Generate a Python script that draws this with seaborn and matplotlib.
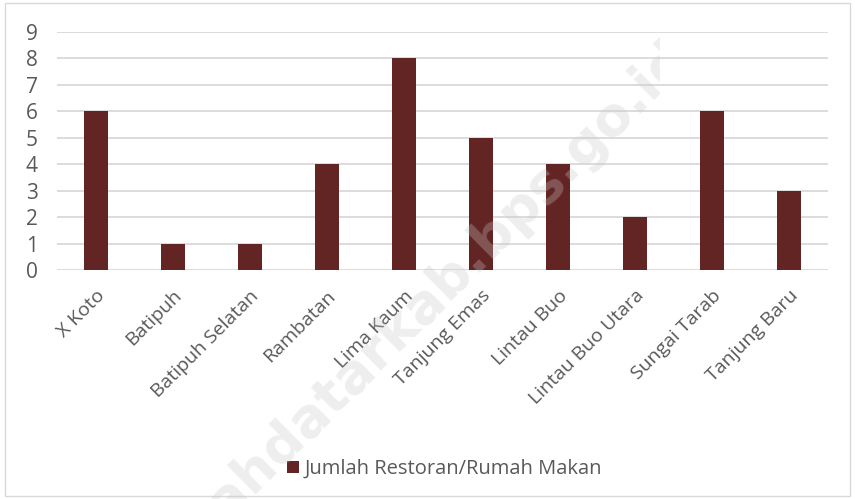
import matplotlib
matplotlib.use("Agg")
import matplotlib.pyplot as plt
import seaborn as sns
from matplotlib.patches import Rectangle
from matplotlib.transforms import Bbox, TransformedBbox

kecamatan = ["X Koto", "Batipuh", "Batipuh Selatan", "Rambatan", "Lima Kaum",
             "Tanjung Emas", "Lintau Buo", "Lintau Buo Utara", "Sungai Tarab", "Tanjung Baru"]
jumlah = [6, 1, 1, 4, 8, 5, 4, 2, 6, 3]
y_ticks = list(range(0, 10))
series_name = "Jumlah Restoran/Rumah Makan"

sns.set_theme(style="white")
plt.rcParams["font.family"] = ["Open Sans", "DejaVu Sans"]
text_color = "#595959"
bar_color = "#632523"

fig = plt.figure(figsize=(8.55, 4.99), dpi=100)
ax = fig.add_axes([0.0667, 0.459, 0.9013, 0.477])

sns.barplot(x=kecamatan, y=jumlah, color=bar_color, width=0.31, saturation=1,
            linewidth=0, label=series_name, ax=ax)

ax.set_ylim(0, 9)
ax.set_yticks(y_ticks)
ax.set_xlim(-0.5, len(kecamatan) - 0.5)
ax.yaxis.grid(True, color="#d9d9d9", linewidth=1.3)
ax.set_axisbelow(True)
for s in ax.spines.values():
    s.set_visible(False)
ax.tick_params(axis="y", length=0, pad=14, labelsize=15, labelcolor=text_color)
ax.tick_params(axis="x", length=0, pad=12, labelsize=14, labelcolor=text_color)
plt.setp(ax.get_xticklabels(), rotation=45, ha="right", rotation_mode="anchor")
ax.set_xlabel("")
ax.set_ylabel("")

leg = ax.legend(loc="center", bbox_to_anchor=(0.52, 0.06), bbox_transform=fig.transFigure,
                frameon=False, fontsize=14.5, handlelength=0.6, handleheight=0.6,
                handletextpad=0.3, labelcolor=text_color)

# watermark (cut off as in the original)
wm = fig.text(0.484, 0.365, "tanahdatarkab.bps.go.id", fontsize=39, fontweight="bold",
              color="#c8c8c8", alpha=0.3, rotation=44.7, ha="center", va="center",
              family="DejaVu Sans")
wm.set_clip_box(TransformedBbox(Bbox([[0, 0], [0.772, 0.93]]), fig.transFigure))
wm.set_clip_on(True)

# outer border
fig.patches.append(Rectangle((0.006, 0.006), 0.988, 0.988, transform=fig.transFigure,
                             fill=False, edgecolor="#d9d9d9", linewidth=1))

fig.savefig("out.png", dpi=100)
